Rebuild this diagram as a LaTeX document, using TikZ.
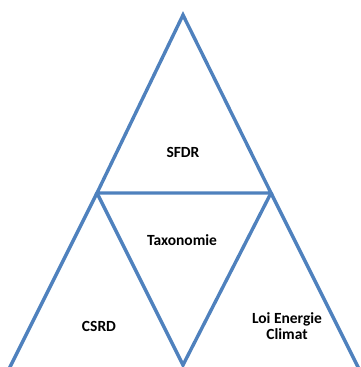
\documentclass[tikz,border=0pt]{standalone}
\usepackage{fontspec}
\setmainfont{Carlito}
\usepackage{tikz}
\usetikzlibrary{positioning}
\definecolor{edgeblue}{RGB}{79, 129, 189}

\begin{document}
\begin{tikzpicture}[x=1pt,y=-1pt,
    edge/.style={line width=3.4pt, edgeblue, line join=miter},
    label/.style={font=\fontsize{15.5}{16.5}\selectfont\bfseries, align=center, text=black}]
        \useasboundingbox (0,0) rectangle (360,367);
        \clip (0,0) rectangle (360,367);

        % Corner points
        \coordinate (apex) at (183,15);
        \coordinate (midl) at (97,193);
        \coordinate (midr) at (271,193);
        \coordinate (bottom) at (183,365);
        \coordinate (footl) at (7,373);
        \coordinate (footr) at (361,373);

        % Triangles
        \draw[edge] (apex) -- (midl) -- (midr) -- cycle;
        \draw[edge] (midl) -- (bottom) -- (midr);
        \draw[edge] (midl) -- (footl);
        \draw[edge] (midr) -- (footr);

        % Labels
        \node[label] (sfdr) at (183,152) {SFDR};
        \node[label] (taxo) at (182,240) {Taxonomie};
        \node[label] (csrd) at (99,326) {CSRD};
        \node[label] (loi) at (287,326) {Loi Energie\\Climat};
\end{tikzpicture}
\end{document}
